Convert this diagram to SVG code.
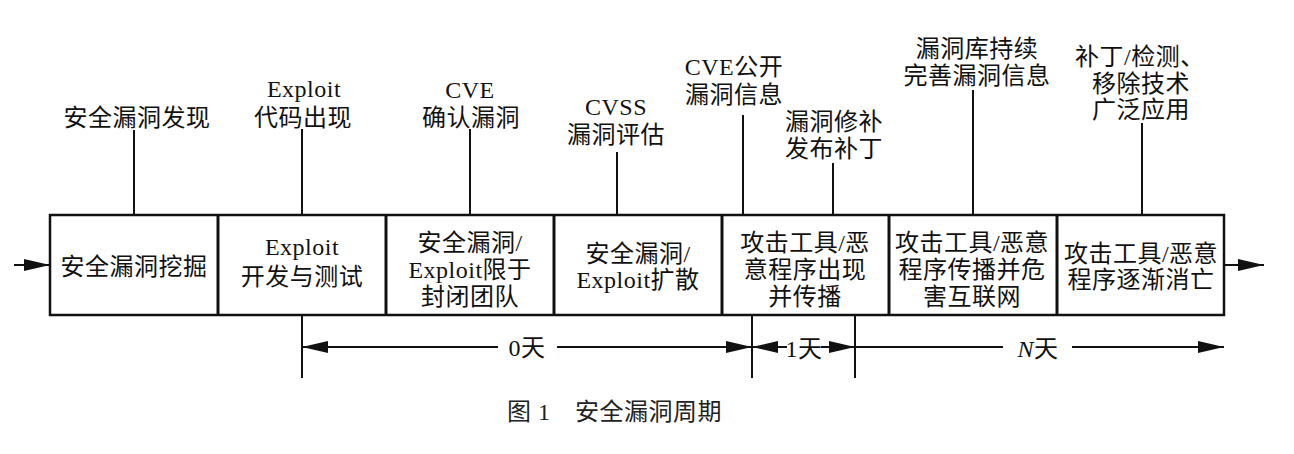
<svg xmlns="http://www.w3.org/2000/svg" width="1294" height="454" viewBox="0 0 1294 454">
<style>
  text { font-family: "Liberation Serif", "Noto Sans CJK SC", serif; font-size: 24px; fill: #111; text-anchor: middle; letter-spacing: 0.5px; }
  .box { fill: #fff; stroke: #111; stroke-width: 2.5; }
  .div { stroke: #111; stroke-width: 3; }
  .tick { stroke: #111; stroke-width: 2; fill: none; }
  .arrow { stroke: #111; stroke-width: 2; fill: none; }
  .cap { fill: #222; }
</style>
<defs>
  <marker id="ah" viewBox="0 0 26 12" refX="26" refY="6" markerWidth="26" markerHeight="12" markerUnits="userSpaceOnUse" orient="auto">
    <path d="M0,0 L26,6 L0,12 Z" fill="#111"/>
  </marker>
</defs>
<rect width="1294" height="454" fill="#fff"/>

<g id="nodes">
  <g id="box1">
    <rect class="box" x="50" y="215" width="1174" height="100"/>
    <text x="134" y="275">安全漏洞挖掘</text>
  </g>
  <g id="box2">
    <line class="div" x1="218" y1="215" x2="218" y2="315"/>
    <text x="302" y="255">Exploit</text>
    <text x="302" y="285">开发与测试</text>
  </g>
  <g id="box3">
    <line class="div" x1="386" y1="215" x2="386" y2="315"/>
    <text x="470" y="251">安全漏洞/</text>
    <text x="470" y="278">Exploit限于</text>
    <text x="470" y="305">封闭团队</text>
  </g>
  <g id="box4">
    <line class="div" x1="554" y1="215" x2="554" y2="315"/>
    <text x="638" y="262">安全漏洞/</text>
    <text x="638" y="288">Exploit扩散</text>
  </g>
  <g id="box5">
    <line class="div" x1="722" y1="215" x2="722" y2="315"/>
    <text x="805" y="251">攻击工具/恶</text>
    <text x="805" y="278">意程序出现</text>
    <text x="805" y="305">并传播</text>
  </g>
  <g id="box6">
    <line class="div" x1="889" y1="215" x2="889" y2="315"/>
    <text x="972" y="251">攻击工具/恶意</text>
    <text x="972" y="278">程序传播并危</text>
    <text x="972" y="305">害互联网</text>
  </g>
  <g id="box7">
    <line class="div" x1="1057" y1="215" x2="1057" y2="315"/>
    <text x="1141" y="262">攻击工具/恶意</text>
    <text x="1141" y="288">程序逐渐消亡</text>
  </g>

  <g id="ev1"><text x="137" y="126">安全漏洞发现</text></g>
  <g id="ev2"><text x="304" y="97">Exploit</text><text x="303" y="126">代码出现</text></g>
  <g id="ev3"><text x="470" y="98">CVE</text><text x="471" y="126">确认漏洞</text></g>
  <g id="ev4"><text x="616" y="115">CVSS</text><text x="616" y="143">漏洞评估</text></g>
  <g id="ev5"><text x="734" y="75">CVE公开</text><text x="734" y="103">漏洞信息</text></g>
  <g id="ev6"><text x="834" y="130">漏洞修补</text><text x="834" y="157">发布补丁</text></g>
  <g id="ev7"><text x="977" y="57">漏洞库持续</text><text x="977" y="84">完善漏洞信息</text></g>
  <g id="ev8"><text x="1075" y="65" style="text-anchor:start">补丁/检测、</text><text x="1141" y="92">移除技术</text><text x="1141" y="118">广泛应用</text></g>

  <g id="span0"><text x="527" y="356">0天</text></g>
  <g id="span1"><text x="804" y="357">1天</text></g>
  <g id="spanN"><text x="1038" y="357"><tspan font-style="italic">N</tspan>天</text></g>
</g>

<g id="connectors">
  <line class="tick" x1="134" y1="130" x2="134" y2="215"/>
  <line class="tick" x1="302" y1="129" x2="302" y2="215"/>
  <line class="tick" x1="470" y1="129" x2="470" y2="215"/>
  <line class="tick" x1="617" y1="152" x2="617" y2="215"/>
  <line class="tick" x1="743" y1="115" x2="743" y2="215"/>
  <line class="tick" x1="833" y1="163" x2="833" y2="215"/>
  <line class="tick" x1="973" y1="90" x2="973" y2="215"/>
  <line class="tick" x1="1142" y1="123" x2="1142" y2="215"/>

  <line class="tick" x1="302" y1="315" x2="302" y2="378"/>
  <line class="tick" x1="752" y1="315" x2="752" y2="378"/>
  <line class="tick" x1="855" y1="315" x2="855" y2="378"/>

  <line class="arrow" x1="14" y1="265" x2="50" y2="265" marker-end="url(#ah)"/>
  <line class="arrow" x1="1224" y1="265" x2="1264" y2="265" marker-end="url(#ah)"/>

  <line class="arrow" x1="498" y1="347" x2="302" y2="347" marker-end="url(#ah)"/>
  <line class="arrow" x1="557" y1="347" x2="752" y2="347" marker-end="url(#ah)"/>
  <line class="arrow" x1="787" y1="347" x2="752" y2="347" marker-end="url(#ah)"/>
  <line class="arrow" x1="821" y1="347" x2="855" y2="347" marker-end="url(#ah)"/>
  <line class="arrow" x1="855" y1="347" x2="1003" y2="347"/>
  <line class="arrow" x1="1072" y1="347" x2="1224" y2="347" marker-end="url(#ah)"/>
</g>

<g id="caption">
  <text class="cap" x="507" y="420" style="text-anchor:start">图 1<tspan x="575">安全漏洞周期</tspan></text>
</g>
</svg>
